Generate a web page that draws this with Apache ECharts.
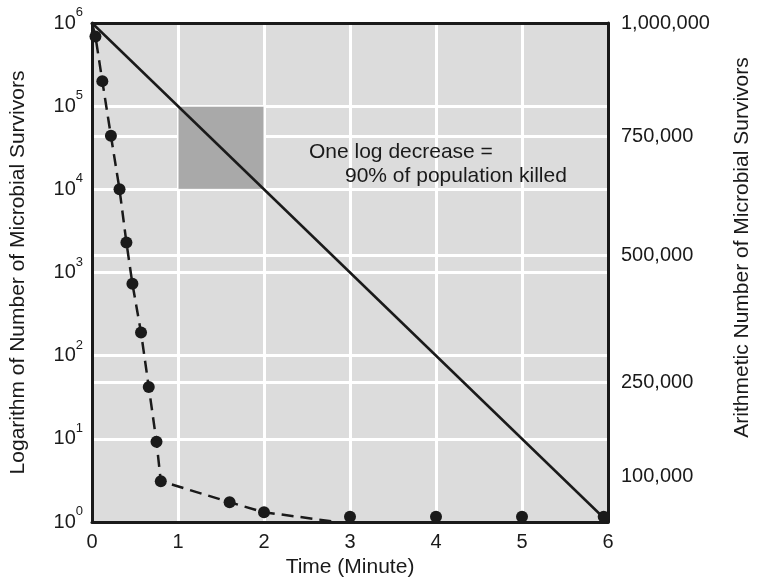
<!DOCTYPE html>
<html>
<head>
<meta charset="utf-8">
<script src="https://cdn.jsdelivr.net/npm/echarts@6/dist/echarts.min.js"></script>
<style>
html,body{margin:0;padding:0;background:#fff;}
#chart{width:761px;height:583px;}
</style>
</head>
<body>
<div id="chart"></div>
<script>
// ---- data ----
// theoretical log-linear death curve (solid line)
const solidTime = [0, 6];
const solidCount = [1000000, 1];
// dashed curve
const dashedTime = [0, 0.04, 0.12, 0.22, 0.32, 0.40, 0.47, 0.57, 0.66, 0.75, 0.80, 1.60, 2.00, 2.85];
const dashedCount = [1000000, 690000, 200000, 44000, 10000, 2300, 730, 190, 42, 9.2, 3.1, 1.73, 1.31, 1.0];
// plotted points
const dotTime = [0.04, 0.12, 0.22, 0.32, 0.40, 0.47, 0.57, 0.66, 0.75, 0.80, 1.60, 2.00, 3, 4, 5, 5.95];
const dotCount = [690000, 200000, 44000, 10000, 2300, 730, 190, 42, 9.2, 3.1, 1.73, 1.31, 1.16, 1.16, 1.16, 1.16];
// right (arithmetic) axis labels and where they sit on the log scale (in decades)
const rightTickLabels = ['1,000,000', '750,000', '500,000', '250,000', '100,000'];
const rightTickDecades = [6, 4.64, 3.21, 1.68, 0.545];
// shaded "one log" box
const boxTime = [1, 2];
const boxCount = [100000, 10000];
const noteLines = ['One log decrease =', '90% of population killed'];

const FONT = '"Liberation Sans", Arial, Helvetica, sans-serif';
const INK = '#1a1a1a';
const zip = (a, b) => a.map((v, i) => [v, b[i]]);

const chart = echarts.init(document.getElementById('chart'), null, {renderer: 'canvas'});
const option = {
  backgroundColor: '#ffffff',
  animation: false,
  textStyle: {fontFamily: FONT, color: INK},
  grid: {left: 91, top: 23, width: 524, height: 505, show: true, backgroundColor: '#dcdcdc', borderWidth: 0},
  xAxis: [{
    type: 'value', min: 0, max: 6, interval: 1, position: 'bottom',
    name: 'Time (Minute)', nameLocation: 'middle', nameGap: 35,
    nameTextStyle: {fontSize: 21, color: INK, fontFamily: FONT},
    axisLine: {show: true, onZero: false, lineStyle: {color: INK, width: 3}},
    axisTick: {show: false},
    axisLabel: {fontSize: 20, color: INK, margin: 10, fontFamily: FONT},
    splitLine: {show: true, showMinLine: false, showMaxLine: false, lineStyle: {color: '#ffffff', width: 3}}
  }, {
    type: 'value', min: 0, max: 6, position: 'top',
    axisLine: {show: true, onZero: false, lineStyle: {color: INK, width: 3}},
    axisTick: {show: false}, axisLabel: {show: false}, splitLine: {show: false}
  }],
  yAxis: [{
    type: 'log', logBase: 10, min: 1, max: 1000000, position: 'left',
    name: 'Logarithm of Number of Microbial Survivors', nameLocation: 'middle', nameGap: 63,
    nameTextStyle: {fontSize: 21, color: INK, fontFamily: FONT},
    axisLine: {show: true, onZero: false, lineStyle: {color: INK, width: 3}},
    axisTick: {show: false},
    axisLabel: {
      margin: 9,
      formatter: v => '{b|10}{s|' + Math.round(Math.log10(v)) + '}',
      rich: {
        b: {fontSize: 20, color: INK, fontFamily: FONT, verticalAlign: 'bottom'},
        s: {fontSize: 13, color: INK, fontFamily: FONT, lineHeight: 13, padding: [0, 0, 14, 0], verticalAlign: 'bottom'}
      }
    },
    splitLine: {show: true, showMinLine: false, showMaxLine: false, lineStyle: {color: '#ffffff', width: 3}}
  }, {
    type: 'value', min: 0, max: 6, position: 'right',
    name: 'Arithmetic Number of Microbial Survivors', nameLocation: 'middle', nameGap: 124,
    nameTextStyle: {fontSize: 21, color: INK, fontFamily: FONT, padding: [0, 0, 0, 50]},
    axisLine: {show: true, onZero: false, lineStyle: {color: INK, width: 3}},
    axisTick: {show: false, customValues: rightTickDecades},
    axisLabel: {
      margin: 13, fontSize: 20, color: INK, fontFamily: FONT,
      customValues: rightTickDecades,
      formatter: v => {
        const i = rightTickDecades.findIndex(d => Math.abs(d - v) < 1e-6);
        return i >= 0 ? rightTickLabels[i] : '';
      }
    },
    splitLine: {show: true, showMinLine: false, showMaxLine: false, lineStyle: {color: '#ffffff', width: 3}}
  }],
  series: [{
    type: 'line', name: 'theoretical', xAxisIndex: 0, yAxisIndex: 0,
    data: zip(solidTime, solidCount), symbol: 'none',
    lineStyle: {color: INK, width: 2.5}, z: 3,
    markArea: {
      silent: true,
      itemStyle: {color: '#a9a9a9', borderColor: '#ffffff', borderWidth: 1},
      data: [[{coord: [boxTime[0], boxCount[0]]}, {coord: [boxTime[1], boxCount[1]]}]]
    }
  }, {
    type: 'line', name: 'observed', xAxisIndex: 0, yAxisIndex: 0,
    data: zip(dashedTime, dashedCount), symbol: 'none',
    lineStyle: {color: INK, width: 2.5, type: [12, 7]}, z: 4
  }, {
    type: 'scatter', name: 'points', xAxisIndex: 0, yAxisIndex: 0,
    data: zip(dotTime, dotCount), symbol: 'circle', symbolSize: 12,
    itemStyle: {color: INK, opacity: 1}, z: 5, clip: false
  }],
  graphic: [{
    type: 'text', left: 309, top: 142, z: 10,
    style: {text: noteLines[0], font: '21px ' + FONT, fill: INK}
  }, {
    type: 'text', left: 345, top: 166, z: 10,
    style: {text: noteLines[1], font: '21px ' + FONT, fill: INK}
  }]
};
chart.setOption(option);
</script>
</body>
</html>
